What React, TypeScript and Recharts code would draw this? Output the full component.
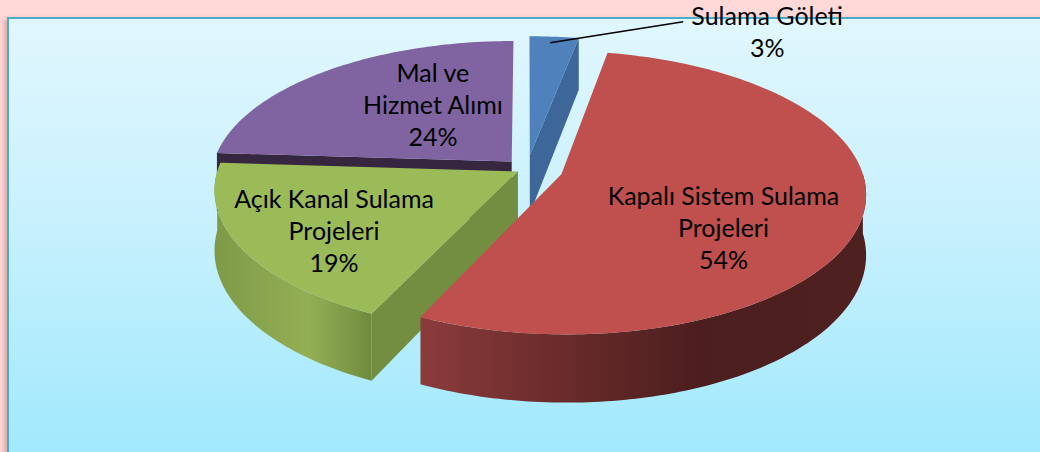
import React from "react";
import { PieChart, Pie } from "recharts";

// share of investment by project type (%)
const categories = [
  "Sulama Göleti",
  "Kapalı Sistem Sulama Projeleri",
  "Açık Kanal Sulama Projeleri",
  "Mal ve Hizmet Alımı",
];
const shares = [3, 54, 19, 24];
const labelRows = [
  ["Sulama Göleti"],
  ["Kapalı Sistem Sulama", "Projeleri"],
  ["Açık Kanal Sulama", "Projeleri"],
  ["Mal ve", "Hizmet Alımı"],
];

const topColors = ["#4F81BD", "#C0504D", "#9BBB59", "#8064A2"];
const faceColors = ["#3D6699", "#7A3432", "#738D41", "#37263F"];
const wallStops: [string, string][][] = [
  [["0", "#3D6699"], ["1", "#2E4E78"]],
  [["0", "#8B3B3B"], ["0.3", "#6C2C2C"], ["0.62", "#4D1E1E"], ["1", "#4F2020"]],
  [["0", "#7F9A47"], ["0.6", "#93AF55"], ["0.85", "#7E9947"], ["1", "#708A3E"]],
  [["0", "#5E4A78"], ["1", "#4A3A60"]],
];
const explode = [0.1, 0.12, 0.035, 0.075];
const labelPos = [
  { r: 1, dx: 213, dy: -6 },
  { r: 0.57, dx: -6, dy: 28 },
  { r: 0.67, dx: -2, dy: 9 },
  { r: 0.42, dx: 3, dy: -17 },
];

const WIDTH = 1040;
const HEIGHT = 452;
const CX = 522;
const CY = 164;
const RADIUS = 300;
const Y_SCALE = 0.46;
const PERSP = 0.13;
const DEPTH = 59;
const RAD = Math.PI / 180;

const data = categories.map((name, i) => ({ name, value: shares[i] }));
// same slices, listed back to front, for the cut faces
const dataBackFirst = [...data].reverse();

type SliceProps = {
  cx: number;
  cy: number;
  outerRadius: number;
  startAngle: number;
  endAngle: number;
  midAngle: number;
  percent?: number;
  name?: string;
  payload?: any;
};

function sliceIndex(p: SliceProps) {
  const n = p.payload?.name ?? p.name;
  return categories.indexOf(n);
}

function project(p: SliceProps, X: number, Y: number, h = 0): [number, number] {
  const w = 1 / (1 + PERSP * Y);
  return [
    p.cx + p.outerRadius * X * w,
    p.cy - p.outerRadius * Y_SCALE * Y * w + DEPTH * h * w,
  ];
}

function offset(p: SliceProps, i: number): [number, number] {
  const e = explode[i];
  return [e * Math.cos(p.midAngle * RAD), e * Math.sin(p.midAngle * RAD)];
}

function rim(p: SliceProps, i: number, a0: number, a1: number, h: number) {
  const [ex, ey] = offset(p, i);
  const n = Math.max(2, Math.ceil(Math.abs(a1 - a0)));
  const pts: [number, number][] = [];
  for (let k = 0; k <= n; k++) {
    const a = (a0 + ((a1 - a0) * k) / n) * RAD;
    pts.push(project(p, ex + Math.cos(a), ey + Math.sin(a), h));
  }
  return pts;
}

const toPath = (pts: [number, number][]) =>
  pts.map(([x, y], k) => `${k ? "L" : "M"}${x.toFixed(2)},${y.toFixed(2)}`).join(" ") + " Z";

function FaceShape(props: SliceProps) {
  const i = sliceIndex(props);
  const [ex, ey] = offset(props, i);
  // clockwise: leading edge has the larger angle
  const lead = Math.max(props.startAngle, props.endAngle);
  const trail = Math.min(props.startAngle, props.endAngle);
  const faces: React.ReactNode[] = [];
  const quad = (a: number, key: string) => {
    const r = a * RAD;
    const pts: [number, number][] = [
      project(props, ex, ey, 0),
      project(props, ex + Math.cos(r), ey + Math.sin(r), 0),
      project(props, ex + Math.cos(r), ey + Math.sin(r), 1),
      project(props, ex, ey, 1),
    ];
    faces.push(<path key={key} d={toPath(pts)} fill={faceColors[i]} />);
  };
  if (Math.cos(lead * RAD) < -1e-6) quad(lead, "s");
  if (Math.cos(trail * RAD) > 1e-6) quad(trail, "e");
  return <g>{faces}</g>;
}

function WallShape(props: SliceProps) {
  const i = sliceIndex(props);
  const lo = Math.max(Math.min(props.startAngle, props.endAngle), -180);
  const hi = Math.min(Math.max(props.startAngle, props.endAngle), 0);
  if (hi <= lo) return <g />;
  const top = rim(props, i, hi, lo, 0);
  const bottom = rim(props, i, lo, hi, 1);
  const id = `wall-${i}`;
  return (
    <g>
      <defs>
        <linearGradient id={id} x1="0" y1="0" x2="1" y2="0">
          {wallStops[i].map(([o, c]) => (
            <stop key={o} offset={o} stopColor={c} />
          ))}
        </linearGradient>
      </defs>
      <path d={toPath([...top, ...bottom])} fill={`url(#${id})`} />
    </g>
  );
}

function TopShape(props: SliceProps) {
  const i = sliceIndex(props);
  const [ex, ey] = offset(props, i);
  const pts = [project(props, ex, ey, 0), ...rim(props, i, props.startAngle, props.endAngle, 0)];
  return <path d={toPath(pts)} fill={topColors[i]} />;
}

function renderLabel(props: any) {
  const i = sliceIndex(props);
  const lp = labelPos[i];
  const [ex, ey] = offset(props, i);
  const m = props.midAngle * RAD;
  const [ax, ay] = project(props, ex + lp.r * Math.cos(m), ey + lp.r * Math.sin(m));
  const x = ax + lp.dx;
  const y = ay + lp.dy;
  const lines = [...labelRows[i], `${Math.round(props.percent * 100)}%`];
  const gap = 32;
  return (
    <g key={`label-${i}`}>
      {lp.r >= 1 && (
        <polyline
          points={`${ax - 4},${ay + 6} ${x - 84},${y - 9}`}
          fill="none"
          stroke="#000"
          strokeWidth={1.5}
        />
      )}
      {lines.map((t, k) => (
        <text
          key={k}
          x={x}
          y={y + (k - (lines.length - 1) / 2) * gap}
          textAnchor="middle"
          dominantBaseline="central"
          fontFamily="Lato, 'Open Sans', sans-serif"
          fontSize={25}
          fill="#000"
        >
          {t}
        </text>
      ))}
    </g>
  );
}

export default function App() {
  const pieProps = {
    dataKey: "value",
    nameKey: "name",
    cx: CX,
    cy: CY,
    outerRadius: RADIUS,
    stroke: "none",
    isAnimationActive: false,
  };
  return (
    <div style={{ position: "absolute", left: 0, top: 0, width: WIDTH, height: HEIGHT, background: "#FFD8D8", overflow: "hidden" }}>
      <div
        style={{
          position: "absolute",
          left: 7,
          top: 17,
          width: WIDTH,
          height: HEIGHT - 19,
          border: "2px solid #4BACC6",
          background: "linear-gradient(180deg, #E1F7FE 0%, #C6F0FD 50%, #A1E9FD 100%)",
          boxShadow: "-3px 2px 4px rgba(120,40,40,0.25)",
        }}
      />
      <div style={{ position: "absolute", left: 0, top: 0 }}>
        <PieChart width={WIDTH} height={HEIGHT}>
          <Pie
            {...pieProps}
            data={dataBackFirst}
            startAngle={-270}
            endAngle={90}
            shape={FaceShape as any}
            label={false}
            labelLine={false}
          />
          <Pie {...pieProps} data={data} startAngle={90} endAngle={-270} shape={WallShape as any} label={false} labelLine={false} />
          <Pie {...pieProps} data={data} startAngle={90} endAngle={-270} shape={TopShape as any} label={renderLabel} labelLine={false} />
        </PieChart>
      </div>
    </div>
  );
}
